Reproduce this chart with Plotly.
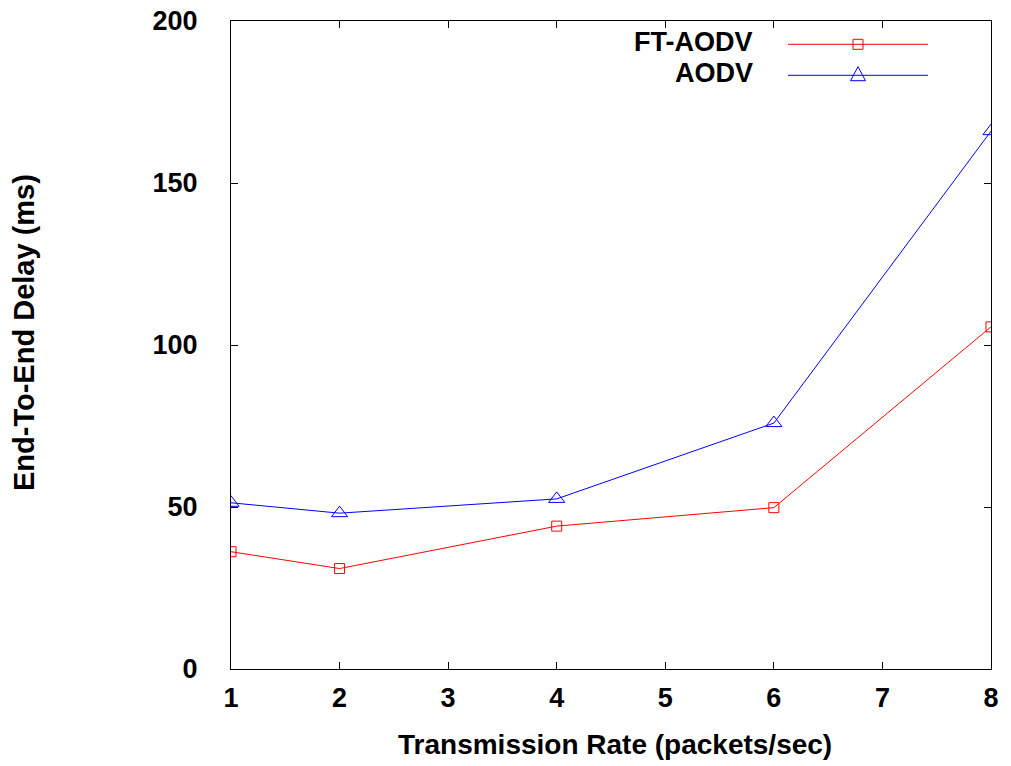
import plotly.graph_objects as go

rates = [1, 2, 4, 6, 8]
ft_aodv = [36.2, 31.0, 44.1, 49.8, 105.6]
aodv = [51.3, 48.1, 52.5, 75.9, 166.0]
x_ticks = [1, 2, 3, 4, 5, 6, 7, 8]
y_ticks = [0, 50, 100, 150, 200]

FONT = "Liberation Sans"
FS = 27
W, H = 1011, 766
PL, PR, PT, PB = 231, 991, 21, 669  # plot area in screen pixels
L, T = PL, PT
R, B = W - PR, H - PB

fig = go.Figure()
fig.add_trace(go.Scatter(x=rates, y=ft_aodv, mode="lines+markers", name="FT-AODV",
                         line=dict(color="#ff0000", width=1),
                         marker=dict(symbol="square-open", size=10, color="#ff0000", line=dict(width=1))))
fig.add_trace(go.Scatter(x=rates, y=aodv, mode="lines+markers", name="AODV",
                         line=dict(color="#0000ff", width=1),
                         marker=dict(symbol="triangle-up-open", size=14, color="#0000ff", line=dict(width=1))))

axis_common = dict(showgrid=False, zeroline=False, showline=True, linecolor="black", linewidth=1,
                   mirror="allticks", ticks="inside", ticklen=7, tickcolor="black",
                   ticklabeloverflow="allow",
                   tickfont=dict(family=FONT, size=FS, color="black", weight="bold"))

fig.update_xaxes(range=[1, 8], tickvals=x_ticks, ticklabelstandoff=5, **axis_common)
fig.update_yaxes(range=[0, 200], tickvals=y_ticks, ticklabelstandoff=27, **axis_common)


def px(sx):
    return (sx - PL) / (PR - PL)


def py(sy):
    return (PB - sy) / (PB - PT)


shapes = []
annotations = [
    dict(x=px(615), y=py(744), xref="paper", yref="paper", text="<b>Transmission Rate (packets/sec)</b>",
         showarrow=False, xanchor="center", yanchor="middle",
         font=dict(family=FONT, size=28, color="black")),
    dict(x=px(24), y=py(333), xref="paper", yref="paper", text="<b>End-To-End Delay (ms)</b>",
         showarrow=False, xanchor="center", yanchor="middle", textangle=-90,
         font=dict(family=FONT, size=29, color="black")),
]
legend = [("FT-AODV", "#ff0000", "square", 44.3, 42.5), ("AODV", "#0000ff", "triangle", 75.3, 73)]
for name, col, sym, ypix, ytxt in legend:
    annotations.append(dict(x=px(755), y=py(ytxt), xref="paper", yref="paper", text="<b>%s</b>" % name,
                            showarrow=False, xanchor="right", yanchor="middle",
                            font=dict(family=FONT, size=FS, color="black")))
    shapes.append(dict(type="line", xref="paper", yref="paper", x0=px(788), x1=px(928),
                       y0=py(ypix), y1=py(ypix), line=dict(color=col, width=1)))
    cx = 858
    if sym == "square":
        shapes.append(dict(type="rect", xref="paper", yref="paper", x0=px(cx - 5), x1=px(cx + 5),
                           y0=py(ypix + 5), y1=py(ypix - 5), line=dict(color=col, width=1)))
    else:
        path = "M %f %f L %f %f L %f %f Z" % (px(cx - 7.5), py(ypix + 5.4), px(cx + 7.5), py(ypix + 5.4),
                                              px(cx), py(ypix - 8.6))
        shapes.append(dict(type="path", xref="paper", yref="paper", path=path, line=dict(color=col, width=1)))

fig.update_layout(width=W, height=H, margin=dict(l=L, r=R, t=T, b=B, autoexpand=False),
                  plot_bgcolor="white", paper_bgcolor="white", showlegend=False,
                  shapes=shapes, annotations=annotations)

fig.write_html("out.html", config={"displayModeBar": False},
               post_script="document.body.style.margin='0';document.body.style.overflow='hidden';")
